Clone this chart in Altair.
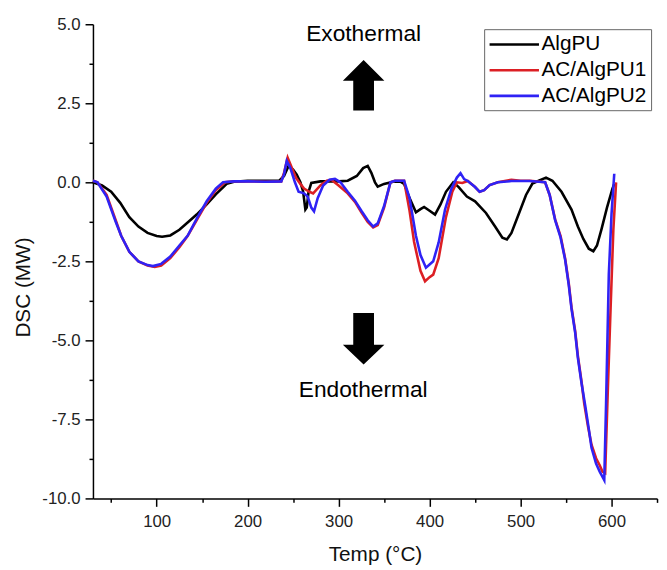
import altair as alt
import pandas as pd

series_names = ["AlgPU", "AC/AlgPU1", "AC/AlgPU2"]
series_colors = ["#000000", "#dc1f24", "#2f22f5"]

algpu_T = [30, 40, 50, 60, 70, 80, 90, 100, 106, 115, 125, 135, 144, 155, 165, 177, 185, 200, 220, 235,
           240, 245, 250, 254, 258, 261, 263.5, 265, 267, 270, 280, 300, 310, 320, 327, 332, 336, 340, 343,
           350, 360, 368, 372, 378, 385, 390, 394, 400, 406, 412, 418, 426, 432, 441, 450, 462, 472, 480,
           485, 490, 498, 506, 513, 520, 528, 535, 545, 556, 563, 569, 575, 580, 584, 589, 595, 601, 603]
algpu_v = [0.0, -0.1, -0.3, -0.65, -1.1, -1.4, -1.6, -1.7, -1.72, -1.68, -1.5, -1.25, -1.02, -0.7, -0.38,
           -0.05, 0.02, 0.05, 0.05, 0.06, 0.2, 0.52, 0.4, 0.24, 0.0, -0.29, -0.86, -0.8, -0.3, -0.02, 0.03,
           0.03, 0.05, 0.2, 0.45, 0.52, 0.3, 0.0, -0.14, -0.05, 0.02, 0.02, -0.05, -0.5, -0.95, -0.85, -0.78,
           -0.9, -1.02, -0.7, -0.3, 0.0, -0.15, -0.45, -0.6, -0.97, -1.4, -1.75, -1.81, -1.6, -1.0, -0.4,
           -0.04, 0.05, 0.15, 0.05, -0.3, -0.86, -1.4, -1.79, -2.1, -2.18, -2.0, -1.48, -0.8, -0.2, -0.05]

ac1_T = [30, 35, 45, 55, 61, 70, 80, 90, 98, 105, 115, 125, 134, 145, 155, 165, 175, 185, 200, 220, 237,
         240, 244, 248, 253, 258, 262, 268, 272, 280, 287, 292, 300, 310, 318, 325, 332, 338, 343, 350, 357,
         362, 372, 378, 383, 390, 395, 400, 404, 410, 418, 425, 430, 436, 442, 450, 455, 460, 466, 475, 490,
         500, 510, 527, 532, 538, 544, 549, 553, 556, 560, 563, 567, 570, 574, 578, 583, 587, 590, 593, 596,
         599, 602, 605]
ac1_v = [0.05, 0.0, -0.4, -1.2, -1.69, -2.2, -2.5, -2.63, -2.68, -2.63, -2.4, -2.05, -1.7, -1.15, -0.65,
         -0.25, 0.0, 0.03, 0.03, 0.02, 0.03, 0.3, 0.78, 0.5, 0.15, -0.05, -0.2, -0.3, -0.35, -0.1, 0.05, 0.08,
         -0.1, -0.35, -0.62, -0.95, -1.25, -1.43, -1.35, -0.8, 0.0, 0.05, 0.05, -0.9, -1.89, -2.8, -3.13,
         -3.0, -2.92, -2.4, -1.1, -0.3, 0.0, -0.02, 0.04, -0.15, -0.3, -0.25, -0.09, 0.0, 0.08, 0.05, 0.05,
         0.0, -0.4, -1.17, -1.7, -2.41, -3.2, -3.95, -4.7, -5.49, -6.3, -7.0, -7.7, -8.3, -8.73, -8.95,
         -9.15, -9.2, -6.5, -3.95, -1.5, 0.0]

ac2_T = [30, 35, 45, 55, 61, 70, 80, 90, 96, 105, 115, 125, 134, 145, 155, 165, 173, 185, 200, 220, 237,
         240, 243, 247, 252, 256, 262, 266, 270, 273, 277, 283, 290, 296, 302, 310, 318, 325, 332, 338, 343,
         350, 357, 362, 372, 378, 385, 390, 396, 400, 404, 410, 417, 424, 430, 434, 438, 442, 450, 455, 460,
         466, 475, 490, 510, 527, 532, 538, 544, 549, 553, 556, 560, 563, 567, 571, 575, 578, 583, 587, 592,
         594, 597, 600, 603]
ac2_v = [0.05, 0.0, -0.45, -1.25, -1.69, -2.2, -2.5, -2.62, -2.65, -2.58, -2.35, -2.0, -1.69, -1.1, -0.6,
         -0.2, 0.0, 0.03, 0.03, 0.02, 0.03, 0.25, 0.68, 0.45, 0.0, -0.3, -0.35, -0.45, -0.8, -0.92, -0.5,
         -0.1, 0.08, 0.11, 0.0, -0.3, -0.58, -0.9, -1.2, -1.4, -1.3, -0.75, 0.0, 0.05, 0.05, -0.5, -1.69,
         -2.3, -2.7, -2.6, -2.5, -1.9, -0.86, -0.2, 0.15, 0.29, 0.1, 0.04, -0.15, -0.3, -0.25, -0.09, 0.0,
         0.04, 0.04, 0.0, -0.4, -1.2, -1.75, -2.45, -3.25, -4.0, -4.75, -5.55, -6.35, -7.05, -7.8, -8.4,
         -8.9, -9.15, -9.42, -7.0, -2.92, -1.0, 0.27]

x_major = [100, 200, 300, 400, 500, 600]
x_minor = [50, 150, 250, 350, 450, 550, 650]
y_major = [-10, -7.5, -5, -2.5, 0, 2.5, 5]
y_minor = [-8.75, -6.25, -3.75, -1.25, 1.25, 3.75]

ann_text = ["Exothermal", "Endothermal"]
ann_T = [327.5, 327.0]
ann_v = [4.68, -6.58]
arrow_up_T = [327.5]
arrow_up_v = [3.07]
arrow_down_T = [327.5]
arrow_down_v = [-4.95]

UP_PATH = "M0,-1.214L1,-0.214L0.5,-0.214L0.5,1.214L-0.5,1.214L-0.5,-0.214L-1,-0.214Z"
DOWN_PATH = "M0,1.238L1,0.286L0.5,0.286L0.5,-1.238L-0.5,-1.238L-0.5,0.286L-1,0.286Z"
LEGEND_LINE = "M-2.5,0H2.5"

FONT = "Liberation Sans"

rows = []
for name, ts, vs in [(series_names[0], algpu_T, algpu_v),
                     (series_names[1], ac1_T, ac1_v),
                     (series_names[2], ac2_T, ac2_v)]:
    for t, v in zip(ts, vs):
        rows.append({"series": name, "T": t, "v": v})
df = pd.DataFrame(rows)

ann_df = pd.DataFrame({"text": ann_text, "T": ann_T, "v": ann_v})
up_df = pd.DataFrame({"T": arrow_up_T, "v": arrow_up_v})
down_df = pd.DataFrame({"T": arrow_down_T, "v": arrow_down_v})

xs = alt.Scale(domain=[30, 650], nice=False, zero=False)
ys = alt.Scale(domain=[-10, 5], nice=False, zero=False)

ylabel_expr = "datum.value < 0 ? '-' + format(-datum.value, '.1f') : format(datum.value, '.1f')"

lines = alt.Chart(df).mark_line(strokeWidth=2.6).encode(
    x=alt.X("T:Q", scale=xs, axis=alt.Axis(
        values=x_major, format="d", title="Temp (°C)", orient="bottom",
        labelPadding=7, titleY=63, titleBaseline="alphabetic")),
    y=alt.Y("v:Q", scale=ys, axis=alt.Axis(
        values=y_major, labelExpr=ylabel_expr, title="DSC (MW)", orient="left",
        labelPadding=5, titleX=-70, titleY=266, titleAngle=270,
        titleBaseline="middle", titleAlign="center")),
    color=alt.Color("series:N",
                    scale=alt.Scale(domain=series_names, range=series_colors),
                    sort=series_names,
                    legend=alt.Legend(orient="none", legendX=396, legendY=5, title=None,
                                      symbolType=LEGEND_LINE, symbolSize=400,
                                      symbolStrokeWidth=2.6, symbolOffset=15,
                                      labelOffset=16, labelFontSize=21,
                                      labelFont=FONT, labelColor="#000",
                                      fillColor="white", strokeColor="#666",
                                      padding=4, rowPadding=4,
                                      labelLimit=300)),
)

minor = alt.Chart(ann_df).mark_point(opacity=0).encode(
    x=alt.X("T:Q", scale=xs, axis=alt.Axis(values=x_minor, labels=False, domain=False,
                                           tickSize=4, title="", orient="bottom")),
    y=alt.Y("v:Q", scale=ys, axis=alt.Axis(values=y_minor, labels=False, domain=False,
                                           tickSize=4, title="", orient="left")),
)

texts = alt.Chart(ann_df).mark_text(font=FONT, fontSize=23, align="center",
                                    baseline="middle", color="#000").encode(
    x=alt.X("T:Q", scale=xs, axis=None),
    y=alt.Y("v:Q", scale=ys, axis=None),
    text="text:N",
)

up = alt.Chart(up_df).mark_point(shape=UP_PATH, size=1764, filled=True,
                                 color="#000", opacity=1, strokeWidth=0).encode(
    x=alt.X("T:Q", scale=xs, axis=None),
    y=alt.Y("v:Q", scale=ys, axis=None),
)

down = alt.Chart(down_df).mark_point(shape=DOWN_PATH, size=1764, filled=True,
                                     color="#000", opacity=1, strokeWidth=0).encode(
    x=alt.X("T:Q", scale=xs, axis=None),
    y=alt.Y("v:Q", scale=ys, axis=None),
)

chart = alt.layer(lines, minor, texts, up, down).resolve_axis(
    x="independent", y="independent"
).properties(
    width=571, height=480,
    padding={"left": 86, "top": 13, "right": 2, "bottom": 69},
    autosize=alt.AutoSizeParams(type="none"),
    background="white",
).configure_view(stroke=None).configure_axis(
    grid=False, domainColor="#000", domainWidth=1.5, tickColor="#000", tickWidth=1.5,
    tickSize=8, labelFont=FONT, labelFontSize=17, labelColor="#222",
    titleFont=FONT, titleFontSize=21, titleColor="#111", titleFontWeight="normal",
)

chart.save("out.html", embed_options={"renderer": "svg", "actions": False})
